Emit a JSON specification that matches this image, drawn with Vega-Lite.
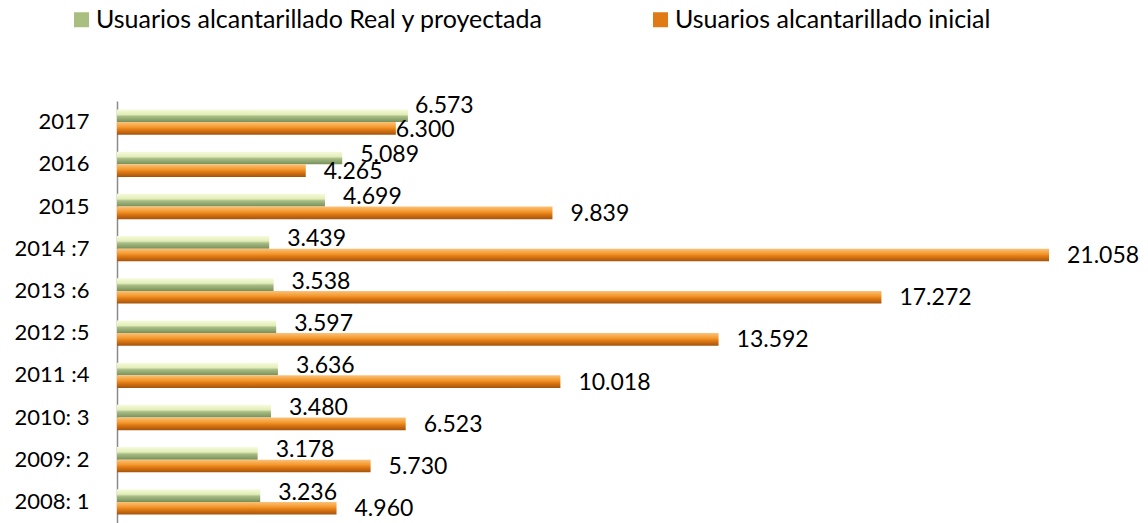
{
  "$schema": "https://vega.github.io/schema/vega-lite/v6.json",
  "autosize": {"type": "none"},
  "padding": {"left": 117, "top": 101, "right": 99, "bottom": 0},
  "width": 932,
  "height": 422,
  "background": "white",
  "config": {
    "locale": {"number": {"decimal": ",", "thousands": ".", "grouping": [3], "currency": ["", ""]}},
    "view": {"stroke": null},
    "font": "Lato",
    "text": {"font": "Lato"}
  },
  "data": {
    "values": [
      {"anio": "2017", "serie": "Usuarios  alcantarillado Real y proyectada", "usuarios": 6573},
      {"anio": "2017", "serie": "Usuarios alcantarillado inicial", "usuarios": 6300},
      {"anio": "2016", "serie": "Usuarios  alcantarillado Real y proyectada", "usuarios": 5089},
      {"anio": "2016", "serie": "Usuarios alcantarillado inicial", "usuarios": 4265},
      {"anio": "2015", "serie": "Usuarios  alcantarillado Real y proyectada", "usuarios": 4699},
      {"anio": "2015", "serie": "Usuarios alcantarillado inicial", "usuarios": 9839},
      {"anio": "2014 :7", "serie": "Usuarios  alcantarillado Real y proyectada", "usuarios": 3439},
      {"anio": "2014 :7", "serie": "Usuarios alcantarillado inicial", "usuarios": 21058},
      {"anio": "2013 :6", "serie": "Usuarios  alcantarillado Real y proyectada", "usuarios": 3538},
      {"anio": "2013 :6", "serie": "Usuarios alcantarillado inicial", "usuarios": 17272},
      {"anio": "2012 :5", "serie": "Usuarios  alcantarillado Real y proyectada", "usuarios": 3597},
      {"anio": "2012 :5", "serie": "Usuarios alcantarillado inicial", "usuarios": 13592},
      {"anio": "2011 :4", "serie": "Usuarios  alcantarillado Real y proyectada", "usuarios": 3636},
      {"anio": "2011 :4", "serie": "Usuarios alcantarillado inicial", "usuarios": 10018},
      {"anio": "2010: 3", "serie": "Usuarios  alcantarillado Real y proyectada", "usuarios": 3480},
      {"anio": "2010: 3", "serie": "Usuarios alcantarillado inicial", "usuarios": 6523},
      {"anio": "2009: 2", "serie": "Usuarios  alcantarillado Real y proyectada", "usuarios": 3178},
      {"anio": "2009: 2", "serie": "Usuarios alcantarillado inicial", "usuarios": 5730},
      {"anio": "2008: 1", "serie": "Usuarios  alcantarillado Real y proyectada", "usuarios": 3236},
      {"anio": "2008: 1", "serie": "Usuarios alcantarillado inicial", "usuarios": 4960}
    ]
  },
  "encoding": {
    "y": {
      "field": "anio",
      "type": "nominal",
      "sort": ["2017", "2016", "2015", "2014 :7", "2013 :6", "2012 :5", "2011 :4", "2010: 3", "2009: 2", "2008: 1"],
      "scale": {"paddingInner": 0.4, "paddingOuter": 0.2},
      "axis": {
        "title": null,
        "ticks": false,
        "tickSize": 0,
        "labelPadding": 28,
        "labelFontSize": 22,
        "labelColor": "#000000",
        "labelFont": "Lato",
        "domainColor": "#8a8a8a",
        "domainWidth": 1.5
      }
    },
    "x": {
      "field": "usuarios",
      "type": "quantitative",
      "scale": {"domain": [0, 21058], "nice": false},
      "axis": null
    },
    "yOffset": {
      "field": "serie",
      "type": "nominal",
      "scale": {"domain": ["Usuarios  alcantarillado Real y proyectada", "Usuarios alcantarillado inicial"], "paddingInner": 0, "paddingOuter": 0}
    }
  },
  "layer": [
    {
      "mark": {"type": "bar", "cornerRadius": 0},
      "encoding": {
        "color": {
          "condition": [
            {"test": "datum.serie == 'Usuarios  alcantarillado Real y proyectada'", "value": {"gradient": "linear", "x1": 0, "y1": 0, "x2": 0, "y2": 1, "stops": [
                {"offset": 0, "color": "#f6fbdc"},
                {"offset": 0.4, "color": "#e2edb8"},
                {"offset": 0.55, "color": "#a9bd86"},
                {"offset": 1, "color": "#76905a"}
              ]}},
            {"test": "datum.serie == 'Usuarios alcantarillado inicial'", "value": {"gradient": "linear", "x1": 0, "y1": 0, "x2": 0, "y2": 1, "stops": [
                {"offset": 0, "color": "#fbc27a"},
                {"offset": 0.4, "color": "#f4982c"},
                {"offset": 0.6, "color": "#e07a14"},
                {"offset": 1, "color": "#a4530c"}
              ]}}
          ],
          "field": "serie",
          "type": "nominal",
          "scale": {
            "domain": ["Usuarios  alcantarillado Real y proyectada", "Usuarios alcantarillado inicial"],
            "range": ["#a8bf80", "#e07a16"]
          },
          "legend": {
            "title": null,
            "orient": "none",
            "legendX": -48,
            "legendY": -94,
            "direction": "horizontal",
            "columnPadding": 98,
            "symbolType": "square",
            "symbolSize": 225,
            "symbolStrokeWidth": 0,
            "labelOffset": 2,
            "labelFontSize": 25,
            "labelFont": "Lato",
            "labelColor": "#000000",
            "labelLimit": 0
          }
        }
      }
    },
    {
      "transform": [{"filter": "datum.anio != '2017' && datum.serie == 'Usuarios  alcantarillado Real y proyectada'"}],
      "mark": {"type": "text", "align": "left", "baseline": "middle", "dx": 18, "dy": -3, "fontSize": 23, "color": "#000000"},
      "encoding": {"text": {"field": "usuarios", "type": "quantitative", "format": ",.0f"}}
    },
    {
      "transform": [{"filter": "datum.anio != '2017' && datum.serie == 'Usuarios alcantarillado inicial'"}],
      "mark": {"type": "text", "align": "left", "baseline": "middle", "dx": 18, "dy": 1, "fontSize": 23, "color": "#000000"},
      "encoding": {"text": {"field": "usuarios", "type": "quantitative", "format": ",.0f"}}
    },
    {
      "transform": [{"filter": "datum.anio == '2017' && datum.serie == 'Usuarios  alcantarillado Real y proyectada'"}],
      "mark": {"type": "text", "align": "left", "baseline": "middle", "dx": 7, "dy": -10, "fontSize": 23, "color": "#000000"},
      "encoding": {"text": {"field": "usuarios", "type": "quantitative", "format": ",.0f"}}
    },
    {
      "transform": [{"filter": "datum.anio == '2017' && datum.serie == 'Usuarios alcantarillado inicial'"}],
      "mark": {"type": "text", "align": "left", "baseline": "middle", "dx": 0, "dy": 2, "fontSize": 23, "color": "#000000"},
      "encoding": {"text": {"field": "usuarios", "type": "quantitative", "format": ",.0f"}}
    }
  ]
}
